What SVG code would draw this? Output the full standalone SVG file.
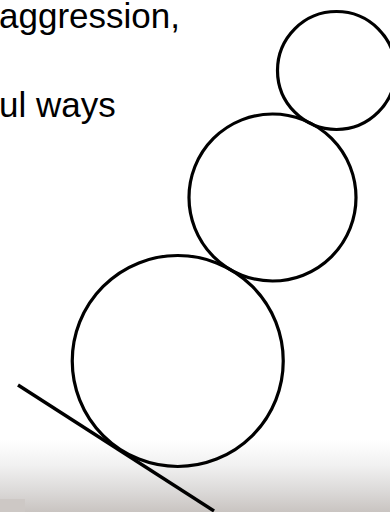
<svg xmlns="http://www.w3.org/2000/svg" width="390" height="512" viewBox="0 0 390 512">
  <defs>
    <linearGradient id="floor" x1="0" y1="440" x2="0" y2="512" gradientUnits="userSpaceOnUse">
      <stop offset="0" stop-color="#ffffff"/>
      <stop offset="0.35" stop-color="#f1f1f1"/>
      <stop offset="0.7" stop-color="#dcdad9"/>
      <stop offset="1" stop-color="#c9c4c1"/>
    </linearGradient>
  </defs>
  <style>
    .txt { font-family: "Liberation Sans", Arial, sans-serif; font-size: 35px; fill: #000; }
    .ball { fill: none; stroke: #000; stroke-width: 3.2; }
    .slope { stroke: #000; stroke-width: 3.4; stroke-linecap: butt; }
  </style>
  <rect x="0" y="0" width="390" height="512" fill="#ffffff"/>
  <rect x="0" y="440" width="390" height="72" fill="url(#floor)"/>
  <rect x="0" y="499" width="25" height="13" fill="#cdc8c5"/>
  <g id="text">
    <text class="txt" x="-1" y="28">aggression,</text>
    <text class="txt" x="-1" y="117">ul ways</text>
  </g>
  <g id="slope">
    <line class="slope" x1="18" y1="385" x2="214" y2="511"/>
  </g>
  <g id="ball-large">
    <circle class="ball" cx="177.75" cy="361" r="105.5"/>
  </g>
  <g id="ball-medium">
    <circle class="ball" cx="272.5" cy="197.5" r="83.5"/>
  </g>
  <g id="ball-small">
    <circle class="ball" cx="336.5" cy="70.5" r="59"/>
  </g>
</svg>
